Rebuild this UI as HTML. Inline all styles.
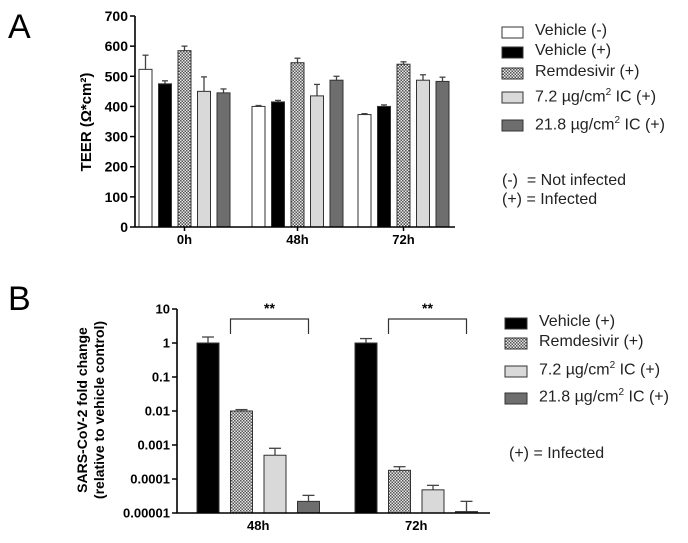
<!DOCTYPE html>
<html><head><meta charset="utf-8"><style>
body{margin:0;background:#fff;}
svg{display:block;font-family:"Liberation Sans",Arial,sans-serif;}
</style></head><body>
<svg id="s" width="688" height="543" viewBox="0 0 688 543" xmlns="http://www.w3.org/2000/svg">
<defs>
<pattern id="chk" width="3" height="3" patternUnits="userSpaceOnUse">
<rect width="3" height="3" fill="#e8e8e8"/><rect width="1.5" height="1.5" fill="#555"/><rect x="1.5" y="1.5" width="1.5" height="1.5" fill="#555"/>
</pattern>
</defs>
<text x="8" y="38" font-size="34">A</text>
<text x="8" y="310" font-size="34">B</text>
<g id="ga"></g>
<g id="gb"></g>
<g id="lg"></g>
</svg>
<script>
// Panel A data
const aGroups = ["0h","48h","72h"];
const aSeries = ["Vehicle (-)","Vehicle (+)","Remdesivir (+)","7.2 µg/cm² IC (+)","21.8 µg/cm² IC (+)"];
const aVals0 = [523,475,585,450,445];
const aVals48 = [400,415,545,435,487];
const aVals72 = [373,400,540,487,483];
const aErr0 = [47,10,15,48,13];
const aErr48 = [3,5,15,38,13];
const aErr72 = [3,5,8,18,14];
const aTicks = [0,100,200,300,400,500,600,700];
// Panel B data
const bGroups = ["48h","72h"];
const bVals48 = [1,0.01,0.0005,0.000022];
const bVals72 = [1,0.00018,0.000048,0.000011];
const bErrTop48 = [1.5,0.011,0.0008,0.000033];
const bErrTop72 = [1.35,0.00023,0.000065,0.000022];
const bTicks = ["10","1","0.1","0.01","0.001","0.0001","0.00001"];
const bTickVals = [10,1,0.1,0.01,0.001,0.0001,0.00001];

const NS="http://www.w3.org/2000/svg";
function mk(p,tag,at,txt){const e=document.createElementNS(NS,tag);for(const k in at)e.setAttribute(k,at[k]);if(txt!=null)e.textContent=txt;p.appendChild(e);return e;}
const fills=["#fff","#000","url(#chk)","#d9d9d9","#6e6e6e"];

// ---- Panel A
const ga=document.getElementById('ga');
const ax0=135, ay0=227, ayTop=16, aMax=700;
const ay=v=>ay0-(v/aMax)*(ay0-ayTop);
const aGroupStart=[139,252,358], aStep=19.5, aBw=13;
const aV=[aVals0,aVals48,aVals72], aE=[aErr0,aErr48,aErr72];
aGroups.forEach((g,gi)=>{
  aV[gi].forEach((v,si)=>{
    const x=aGroupStart[gi]+si*aStep;
    const eb=mk(ga,'line',{x1:x+aBw/2,x2:x+aBw/2,y1:ay(v),y2:ay(v+aE[gi][si]),stroke:'#444','stroke-width':1.3});
    
    
    const cap=mk(ga,'line',{x1:x+aBw/2-3,x2:x+aBw/2+3,y1:ay(v+aE[gi][si]),y2:ay(v+aE[gi][si]),stroke:'#444','stroke-width':1.3});
    
    
    const r=mk(ga,'rect',{x:x,y:ay(v),width:aBw,height:ay0-ay(v),fill:fills[si],stroke:'#333','stroke-width':1});
    
    
  });
  const cx=aGroupStart[gi]+2*aStep+aBw/2;
  mk(ga,'line',{x1:cx,x2:cx,y1:ay0,y2:ay0+4,stroke:'#000','stroke-width':1.5});
  const t=mk(ga,'text',{x:cx,y:ay0+17,'font-size':13,'font-weight':'bold','text-anchor':'middle'},g);
  
  
});
mk(ga,'line',{x1:ax0,x2:ax0,y1:ayTop,y2:ay0,stroke:'#000','stroke-width':1.6});
mk(ga,'line',{x1:ax0,x2:455,y1:ay0,y2:ay0,stroke:'#000','stroke-width':1.6});
aTicks.forEach(v=>{
  mk(ga,'line',{x1:ax0-5,x2:ax0,y1:ay(v),y2:ay(v),stroke:'#000','stroke-width':1.5});
  const t=mk(ga,'text',{x:ax0-7,y:ay(v)+5,'font-size':14,'font-weight':'bold','text-anchor':'end'},v);
  
  
});
const yta=mk(ga,'text',{transform:'translate(91,122) rotate(-90)','font-size':15,'font-weight':'bold','text-anchor':'middle'},'TEER (Ω*cm²)');



// ---- Panel B
const gb=document.getElementById('gb');
const bx0=177, by0=513, byTop=309;
const by=v=>by0-(Math.log10(v)+5)/6*(by0-byTop);
const bGroupStart=[197,355], bStep=33.5, bBw=22;
const bV=[bVals48,bVals72], bE=[bErrTop48,bErrTop72];
const bf=["#000","url(#chk)","#d9d9d9","#6e6e6e"];
bGroups.forEach((g,gi)=>{
  bV[gi].forEach((v,si)=>{
    const x=bGroupStart[gi]+si*bStep;
    const eb=mk(gb,'line',{x1:x+bBw/2,x2:x+bBw/2,y1:by(v),y2:by(bE[gi][si]),stroke:'#444','stroke-width':1.3});
    
    
    const cap=mk(gb,'line',{x1:x+bBw/2-6,x2:x+bBw/2+6,y1:by(bE[gi][si]),y2:by(bE[gi][si]),stroke:'#444','stroke-width':1.3});
    
    
    const r=mk(gb,'rect',{x:x,y:by(v),width:bBw,height:by0-by(v),fill:bf[si],stroke:'#333','stroke-width':1});
    
    
  });
  const cx=bGroupStart[gi]+1.5*bStep+bBw/2;
  const t=mk(gb,'text',{x:cx,y:by0+17,'font-size':13,'font-weight':'bold','text-anchor':'middle'},g);
  
  
  const bl=bGroupStart[gi]+bStep+bBw/2-11, br=bGroupStart[gi]+3*bStep+bBw/2;
  const br1=mk(gb,'path',{d:`M${bl} 334 V319 H${br} V334`,fill:'none',stroke:'#333','stroke-width':1.2});
  
  
  const st=mk(gb,'text',{x:(bl+br)/2,y:313,'font-size':14,'font-weight':'bold','text-anchor':'middle'},'**');
  
  
});
mk(gb,'line',{x1:bx0,x2:bx0,y1:byTop,y2:by0,stroke:'#000','stroke-width':1.6});
mk(gb,'line',{x1:bx0,x2:490,y1:by0,y2:by0,stroke:'#000','stroke-width':1.6});
bTickVals.forEach((v,i)=>{
  mk(gb,'line',{x1:bx0-5,x2:bx0,y1:by(v),y2:by(v),stroke:'#000','stroke-width':1.5});
  const t=mk(gb,'text',{x:bx0-7,y:by(v)+4.5,'font-size':13,'font-weight':'bold','text-anchor':'end'},bTicks[i]);
  
  
});
const ytb1=mk(gb,'text',{transform:'translate(87,410) rotate(-90)','font-size':14,'font-weight':'bold','text-anchor':'middle'},'SARS-CoV-2 fold change');


const ytb2=mk(gb,'text',{transform:'translate(104,410) rotate(-90)','font-size':14,'font-weight':'bold','text-anchor':'middle'},'(relative to vehicle control)');



// ---- Legends
const lg=document.getElementById('lg');
const legA=[[32,0],[52,1],[73,2],[97,3],[125,4]];
legA.forEach(([y,si])=>{
  const r=mk(lg,'rect',{x:502,y:y-5,width:21,height:11,fill:fills[si],stroke:'#333','stroke-width':1});
  
  
});
const legBRows=[[323,0],[343,1],[371,2],[398,3]];
legBRows.forEach(([y,si])=>{
  const r=mk(lg,'rect',{x:505,y:y-5,width:22,height:11,fill:bf[si],stroke:'#333','stroke-width':1});
  
  
});
</script>
<div style="position:absolute;left:0;top:0;width:688px;height:543px;font-family:'Liberation Sans',Arial,sans-serif;font-size:16px;color:#222;pointer-events:none">
<div>
<div style="position:absolute;left:535px;top:22px">Vehicle (-)</div>
<div style="position:absolute;left:535px;top:42px">Vehicle (+)</div>
<div style="position:absolute;left:535px;top:63px">Remdesivir (+)</div>
<div style="position:absolute;left:535px;top:87px">7.2 µg/cm<sup style="font-size:10px">2</sup> IC (+)</div>
<div style="position:absolute;left:535px;top:115px">21.8 µg/cm<sup style="font-size:10px">2</sup> IC (+)</div>
<div style="position:absolute;left:502px;top:172px">(-)&nbsp; = Not infected</div>
<div style="position:absolute;left:502px;top:191px">(+) = Infected</div>
</div>
<div>
<div style="position:absolute;left:539px;top:313px">Vehicle (+)</div>
<div style="position:absolute;left:539px;top:333px">Remdesivir (+)</div>
<div style="position:absolute;left:539px;top:360px">7.2 µg/cm<sup style="font-size:10px">2</sup> IC (+)</div>
<div style="position:absolute;left:539px;top:387px">21.8 µg/cm<sup style="font-size:10px">2</sup> IC (+)</div>
<div style="position:absolute;left:509px;top:445px">(+) = Infected</div>
</div>
</div>
</body></html>
